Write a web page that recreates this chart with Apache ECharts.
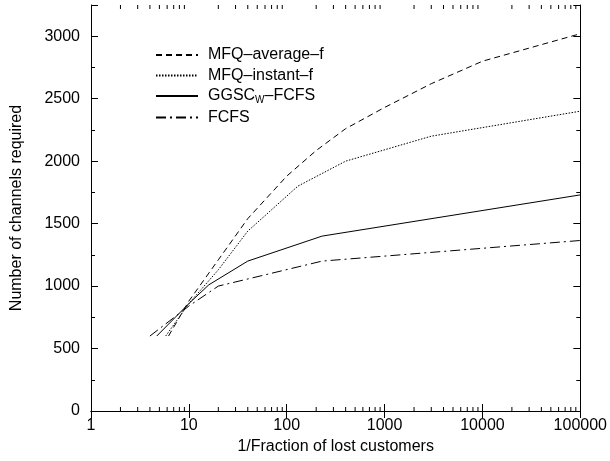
<!DOCTYPE html>
<html>
<head>
<meta charset="utf-8">
<script src="https://cdn.jsdelivr.net/npm/echarts@6/dist/echarts.min.js"></script>
<style>html,body{margin:0;padding:0;background:#fff}#c{width:610px;height:461px}</style>
</head>
<body>
<div id="c"></div>
<script>
// ---- data ----
const seriesNames = ['MFQ–average–f', 'MFQ–instant–f', 'GGSCW–FCFS', 'FCFS'];
const avgX = [6.2, 10, 20, 40, 100, 200, 400, 1000, 3000, 10000, 100000];
const avgY = [600, 880, 1210, 1540, 1880, 2085, 2260, 2430, 2620, 2800, 3020];
const instX = [5.8, 10, 20, 40, 130, 400, 3000, 100000];
const instY = [600, 860, 1130, 1440, 1800, 2000, 2200, 2400];
const ggscX = [4.7, 10, 16, 40, 230, 100000];
const ggscY = [600, 860, 1010, 1200, 1400, 1730];
const fcfsX = [4, 10, 20, 230, 100000];
const fcfsY = [600, 840, 1000, 1200, 1365];
const xTickLabels = [1, 10, 100, 1000, 10000, 100000];
const yTickLabels = [0, 500, 1000, 1500, 2000, 2500, 3000];

const xMinorTicks = [];
for (let d = 1; d < 100000; d *= 10) for (let k = 2; k <= 9; k++) xMinorTicks.push(d * k);

const zip = (xs, ys) => xs.map((x, i) => [x, ys[i]]);
const FONT = 'Liberation Sans, Arial, Helvetica, sans-serif';
const YMAX = 3250;

const chart = echarts.init(document.getElementById('c'), null, {renderer: 'canvas'});

const xBase = {
  type: 'log', logBase: 10, min: 1, max: 100000,
  axisLine: {show: true, lineStyle: {color: '#000', width: 1}},
  axisTick: {show: true, inside: true, length: 7, lineStyle: {color: '#000'}},
  splitLine: {show: false}, minorTick: {show: false}
};
const yBase = {
  type: 'value', min: 0, max: YMAX,
  axisLine: {show: true, lineStyle: {color: '#000', width: 1}},
  axisTick: {show: true, inside: true, length: 7, lineStyle: {color: '#000'}},
  splitLine: {show: false}
};

const lineSeries = (name, data, type) => ({
  name, type: 'line', data, symbol: 'none', showSymbol: false,
  xAxisIndex: 0, yAxisIndex: 0, animation: false,
  lineStyle: {color: '#000', width: 1, type},
  itemStyle: {color: '#000'}, z: 5
});

chart.setOption({
  animation: false,
  backgroundColor: '#fff',
  grid: {left: 91, right: 29, top: 5, bottom: 50, containLabel: false},
  textStyle: {fontFamily: FONT},
  xAxis: [
    Object.assign({}, xBase, {
      position: 'bottom',
      axisLabel: {show: true, color: '#000', fontSize: 16, fontFamily: FONT, margin: 7,
        formatter: v => xTickLabels.includes(Math.round(v)) ? String(Math.round(v)) : ''},
      name: '1/Fraction of lost customers', nameLocation: 'middle', nameGap: 21,
      nameTextStyle: {color: '#000', fontSize: 16, fontFamily: FONT}
    }),
    Object.assign({}, xBase, {position: 'top', axisLabel: {show: false}})
  ],
  yAxis: [
    Object.assign({}, yBase, {
      position: 'left', interval: 500,
      axisLabel: {show: true, color: '#000', fontSize: 16, fontFamily: FONT, margin: 11,
        formatter: v => yTickLabels.includes(v) ? String(v) : ''},
      name: 'Number of channels required', nameLocation: 'middle', nameGap: 66,
      nameTextStyle: {color: '#000', fontSize: 16, fontFamily: FONT}
    }),
    Object.assign({}, yBase, {position: 'left', interval: 250, axisLine: {show: false},
      axisTick: {show: true, inside: true, length: 4, lineStyle: {color: '#000'}}, axisLabel: {show: false}}),
    Object.assign({}, yBase, {position: 'right', interval: 500, axisLabel: {show: false}}),
    Object.assign({}, yBase, {position: 'right', interval: 250, axisLine: {show: false},
      axisTick: {show: true, inside: true, length: 4, lineStyle: {color: '#000'}}, axisLabel: {show: false}})
  ],
  legend: {
    data: seriesNames,
    orient: 'vertical', left: 150, top: 42,
    itemWidth: 42, itemHeight: 14, itemGap: 4.5,
    itemStyle: {color: 'rgba(0,0,0,0)', borderColor: 'rgba(0,0,0,0)', borderWidth: 0, opacity: 0},
    textStyle: {color: '#000', fontSize: 16, fontFamily: FONT, padding: [0, 0, 0, 5],
      rich: {sub: {fontSize: 10, fontFamily: FONT, color: '#000', padding: [8, 0, 0, 0]}}},
    formatter: n => n === 'GGSCW–FCFS' ? 'GGSC{sub|W}–FCFS' : n
  },
  series: [
    lineSeries(seriesNames[0], zip(avgX, avgY), [6, 4]),
    lineSeries(seriesNames[1], zip(instX, instY), [1.5, 1.5]),
    lineSeries(seriesNames[2], zip(ggscX, ggscY), 'solid'),
    lineSeries(seriesNames[3], zip(fcfsX, fcfsY), [10, 4, 2, 4]),
    {
      name: 'minorTicks', type: 'custom', xAxisIndex: 0, yAxisIndex: 0, silent: true,
      data: xMinorTicks.map(v => [v]), clip: false, z: 3,
      renderItem: (params, api) => {
        const v = api.value(0);
        const b = api.coord([v, 0]);
        const t = api.coord([v, YMAX]);
        return {type: 'group', children: [
          {type: 'line', shape: {x1: b[0], y1: b[1], x2: b[0], y2: b[1] - 4}, style: {stroke: '#000', lineWidth: 1}},
          {type: 'line', shape: {x1: t[0], y1: t[1], x2: t[0], y2: t[1] + 4}, style: {stroke: '#000', lineWidth: 1}}
        ]};
      }
    }
  ]
});
</script>
</body>
</html>
